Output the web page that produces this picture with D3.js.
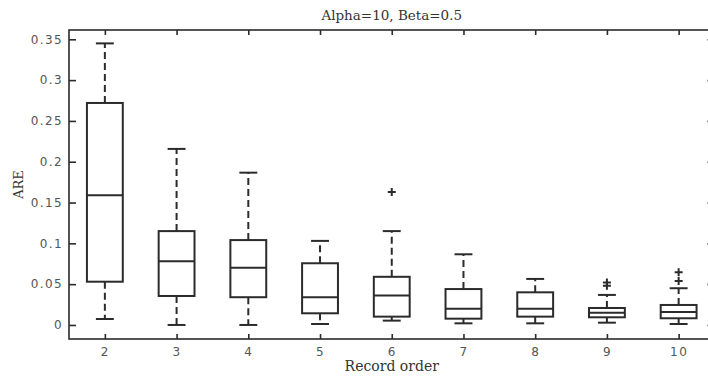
<!DOCTYPE html>
<html>
<head>
<meta charset="utf-8">
<script src="https://cdn.jsdelivr.net/npm/d3@7"></script>
<style>
  body { margin: 0; background: #fff; }
  .tick text { font-family: "DejaVu Sans", sans-serif; font-size: 12px; fill: #555; letter-spacing: 1.4px; }
</style>
</head>
<body>
<svg></svg>
<script>
let categories  = [2, 3, 4, 5, 6, 7, 8, 9, 10];
let whiskerHigh = [0.345, 0.2157, 0.1866, 0.103, 0.115, 0.0866, 0.0564, 0.0368, 0.045];
let q3          = [0.272, 0.115, 0.104, 0.0756, 0.059, 0.044, 0.040, 0.0208, 0.0245];
let medians     = [0.159, 0.078, 0.070, 0.034, 0.036, 0.020, 0.020, 0.0151, 0.016];
let q1          = [0.053, 0.0355, 0.034, 0.0143, 0.0102, 0.0077, 0.0102, 0.0094, 0.0082];
let whiskerLow  = [0.0073, 0.0, 0.0, 0.0012, 0.0053, 0.002, 0.002, 0.0028, 0.0012];
let outliers    = [[], [], [], [], [0.163], [], [], [0.052, 0.048], [0.0645, 0.054]];
let yTicks      = [0, 0.05, 0.1, 0.15, 0.2, 0.25, 0.3, 0.35];

let width = 708;
let height = 379;
let padLeft = 69, padRight = 714.5, padTop = 30, padBottom = 339;
let ink = "#2b2b2b";

let svg = d3.select("svg").attr("width", width).attr("height", height);

let xScale = d3.scaleLinear().domain([1.5, 10.5]).range([padLeft, padRight]);
let yScale = d3.scaleLinear().domain([-0.0172, 0.3614]).range([padBottom, padTop]);

let boxes = categories.map((c, i) => ({
  c: c, lo: whiskerLow[i], q1: q1[i], med: medians[i], q3: q3[i], hi: whiskerHigh[i], out: outliers[i]
}));

// axes (ticks point inward, like matlab)
let fmt = d => d === 0 ? "0" : String(+d.toFixed(2));

svg.append("g")
   .attr("transform", "translate(0," + padBottom + ")")
   .call(d3.axisBottom(xScale).tickValues(categories).tickSize(-5).tickPadding(8))
   .call(g => g.select(".domain").remove());

svg.append("g")
   .attr("transform", "translate(0," + padTop + ")")
   .call(d3.axisTop(xScale).tickValues(categories).tickSize(-5).tickFormat(""))
   .call(g => g.select(".domain").remove());

svg.append("g")
   .attr("transform", "translate(" + padLeft + ",0)")
   .call(d3.axisLeft(yScale).tickValues(yTicks).tickSize(-7).tickPadding(6).tickFormat(fmt))
   .call(g => g.select(".domain").remove());

svg.append("g")
   .attr("transform", "translate(" + padRight + ",0)")
   .call(d3.axisRight(yScale).tickValues(yTicks).tickSize(-7).tickFormat(""))
   .call(g => g.select(".domain").remove());

svg.selectAll(".tick line").attr("stroke", ink).attr("stroke-width", 1.6);

svg.append("rect")
   .attr("x", padLeft).attr("y", padTop)
   .attr("width", padRight - padLeft).attr("height", padBottom - padTop)
   .attr("fill", "none").attr("stroke", ink).attr("stroke-width", 1.6);

// boxes
let halfBox = 0.25, halfCap = 0.125;
let g = svg.append("g").attr("stroke", ink).attr("stroke-width", 2).attr("fill", "none");

let bx = g.selectAll(".box").data(boxes).enter().append("g");

bx.append("line") // upper whisker
  .attr("x1", d => xScale(d.c)).attr("x2", d => xScale(d.c))
  .attr("y1", d => yScale(d.q3)).attr("y2", d => yScale(d.hi))
  .attr("stroke-dasharray", "7,4");
bx.append("line") // lower whisker
  .attr("x1", d => xScale(d.c)).attr("x2", d => xScale(d.c))
  .attr("y1", d => yScale(d.q1)).attr("y2", d => yScale(d.lo))
  .attr("stroke-dasharray", "7,4");
bx.append("line")
  .attr("x1", d => xScale(d.c - halfCap)).attr("x2", d => xScale(d.c + halfCap))
  .attr("y1", d => yScale(d.hi)).attr("y2", d => yScale(d.hi));
bx.append("line")
  .attr("x1", d => xScale(d.c - halfCap)).attr("x2", d => xScale(d.c + halfCap))
  .attr("y1", d => yScale(d.lo)).attr("y2", d => yScale(d.lo));
bx.append("rect")
  .attr("x", d => xScale(d.c - halfBox))
  .attr("width", d => xScale(d.c + halfBox) - xScale(d.c - halfBox))
  .attr("y", d => yScale(d.q3))
  .attr("height", d => yScale(d.q1) - yScale(d.q3))
  .attr("fill", "#fff");
bx.append("line")
  .attr("x1", d => xScale(d.c - halfBox)).attr("x2", d => xScale(d.c + halfBox))
  .attr("y1", d => yScale(d.med)).attr("y2", d => yScale(d.med));

// outliers as '+'
bx.selectAll(".out").data(d => d.out.map(v => ({ c: d.c, v: v }))).enter()
  .append("path")
  .attr("d", d => {
    let x = xScale(d.c), y = yScale(d.v);
    return "M" + (x - 4) + "," + y + "H" + (x + 4) + "M" + x + "," + (y - 4) + "V" + (y + 4);
  });

// labels
svg.append("text")
   .attr("x", (padLeft + padRight) / 2).attr("y", 20)
   .attr("text-anchor", "middle")
   .style("font-family", "DejaVu Serif, serif").style("font-size", "13.5px").style("fill", "#333")
   .text("Alpha=10, Beta=0.5");

svg.append("text")
   .attr("x", (padLeft + padRight) / 2).attr("y", 371)
   .attr("text-anchor", "middle")
   .style("font-family", "DejaVu Serif, serif").style("font-size", "14px").style("fill", "#333")
   .text("Record order");

svg.append("text")
   .attr("transform", "translate(23," + ((padTop + padBottom) / 2) + ") rotate(-90)")
   .attr("text-anchor", "middle")
   .style("font-family", "DejaVu Serif, serif").style("font-size", "13px").style("fill", "#333")
   .text("ARE");
</script>
</body>
</html>
